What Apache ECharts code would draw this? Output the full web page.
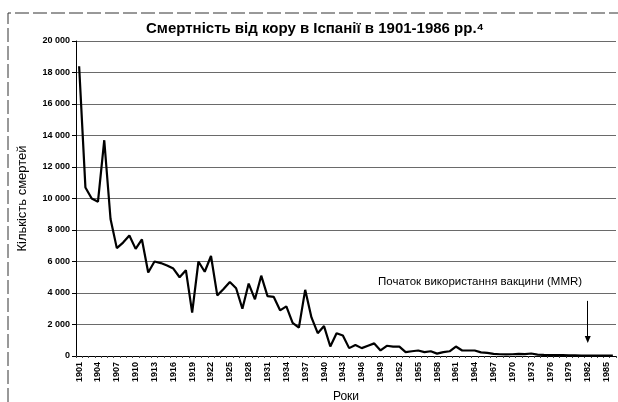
<!DOCTYPE html>
<html>
<head>
<meta charset="utf-8">
<script src="https://cdn.jsdelivr.net/npm/echarts@6/dist/echarts.min.js"></script>
<style>
  html, body { margin: 0; padding: 0; background: #fff; }
</style>
</head>
<body>
<div id="myChart" style="width:618px;height:402px;"></div>
<script>
// роки 1901-1986
const years = [];
for (let y = 1901; y <= 1986; y++) years.push(String(y));

// кількість смертей від кору
const deaths = [
  18400, 10700, 10000, 9800, 13700, 8700, 6850, 7200, 7650, 6800,   // 1901-1910
  7400, 5300, 6000, 5900, 5750, 5550, 5000, 5450, 2750, 6000,        // 1911-1920
  5350, 6350, 3850, 4250, 4700, 4300, 3000, 4600, 3600, 5100,        // 1921-1930
  3800, 3750, 2900, 3150, 2100, 1800, 4200, 2450, 1450, 1900,        // 1931-1940
  600, 1450, 1300, 500, 700, 500, 650, 800, 350, 650,                // 1941-1950
  600, 600, 250, 300, 350, 250, 300, 150, 250, 300,                  // 1951-1960
  600, 350, 350, 350, 230, 200, 130, 110, 100, 110,                  // 1961-1970
  130, 120, 160, 90, 70, 60, 50, 50, 40, 40,                         // 1971-1980
  30, 30, 20, 20, 20, 20                                             // 1981-1986
];

const yTicks = [0, 2000, 4000, 6000, 8000, 10000, 12000, 14000, 16000, 18000, 20000];

const vaccineYear = '1982';
const vaccineNote = 'Початок використання вакцини (MMR)';

const font = '"Liberation Sans", Arial, sans-serif';
const fmt = v => String(v).replace(/\B(?=(\d{3})+(?!\d))/g, ' ');

let myChart = echarts.init(document.getElementById('myChart'));
myChart.setOption({
  animation: false,
  backgroundColor: '#fff',
  title: {
    text: 'Смертність від кору в Іспанії в 1901-1986 рр.⁴',
    left: 310,
    textAlign: 'center',
    top: 16,
    textStyle: { fontFamily: font, fontSize: 15, fontWeight: 'bold', color: '#000' }
  },
  grid: { left: 76, right: 2, top: 41, bottom: 46, outerBoundsMode: 'none' },
  xAxis: {
    type: 'category',
    data: years,
    boundaryGap: true,
    name: 'Роки',
    nameLocation: 'middle',
    nameGap: 35,
    nameTextStyle: { fontFamily: font, fontSize: 12, color: '#000' },
    axisLine: { lineStyle: { color: '#000', width: 1 } },
    axisTick: { show: true, interval: 0, length: 2, lineStyle: { color: '#444' } },
    axisLabel: {
      interval: 2,
      rotate: 90,
      margin: 6,
      fontFamily: font,
      fontSize: 9,
      fontWeight: 'bold',
      color: '#000'
    },
    splitLine: { show: false }
  },
  yAxis: {
    type: 'value',
    min: yTicks[0],
    max: yTicks[yTicks.length - 1],
    interval: 2000,
    name: 'Кількість смертей',
    nameLocation: 'middle',
    nameGap: 47,
    nameTextStyle: { fontFamily: font, fontSize: 13, color: '#000' },
    axisLine: { show: true, lineStyle: { color: '#000', width: 1 } },
    axisTick: { show: true, length: 4, lineStyle: { color: '#000' } },
    axisLabel: {
      margin: 6,
      fontFamily: font,
      fontSize: 9,
      fontWeight: 'bold',
      color: '#000',
      formatter: fmt
    },
    splitLine: { show: true, lineStyle: { color: '#6a6a6a', width: 1 } }
  },
  series: [
    {
      name: 'Смертність',
      type: 'line',
      data: deaths,
      showSymbol: false,
      smooth: false,
      lineStyle: { color: '#000', width: 2.2 },
      markLine: {
        silent: true,
        symbol: ['none', 'triangle'],
        symbolSize: [6, 7],
        lineStyle: { color: '#000', width: 1, type: 'solid' },
        label: { show: false },
        data: [[
          { coord: [vaccineYear, 3500] },
          { coord: [vaccineYear, 1050] }
        ]]
      }
    }
  ],
  graphic: [
    {
      type: 'text',
      left: 378,
      top: 276,
      style: { text: vaccineNote, font: '11.5px ' + font, fill: '#000' }
    },
    {
      type: 'polyline',
      shape: { points: [[8, 402], [8, 13], [618, 13]] },
      style: { stroke: '#333', lineWidth: 1, lineDash: [14, 4], fill: null }
    }
  ]
});

window.onresize = function () {
  myChart.resize();
};
</script>
</body>
</html>
